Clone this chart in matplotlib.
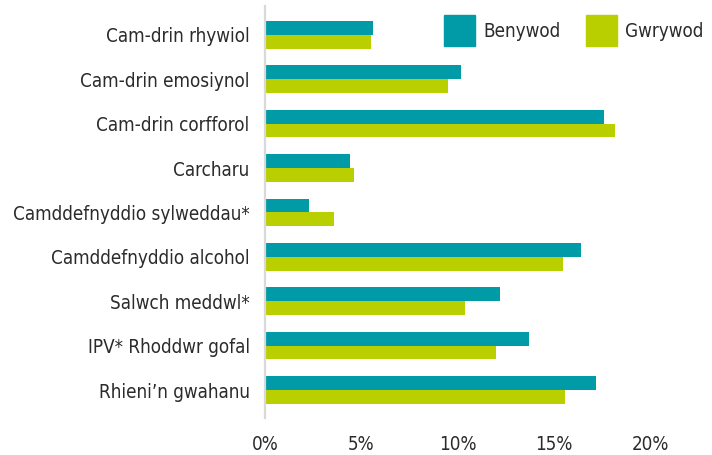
import matplotlib
matplotlib.use("Agg")
import matplotlib.pyplot as plt
from matplotlib.patches import Patch
import numpy as np

# --- data (percent) ---
categories = [
    "Cam-drin rhywiol",
    "Cam-drin emosiynol",
    "Cam-drin corfforol",
    "Carcharu",
    "Camddefnyddio sylweddau*",
    "Camddefnyddio alcohol",
    "Salwch meddwl*",
    "IPV* Rhoddwr gofal",
    "Rhieni\u2019n gwahanu",
]
benywod = [5.6, 10.2, 17.6, 4.4, 2.3, 16.4, 12.2, 13.7, 17.2]
gwrywod = [5.5, 9.5, 18.2, 4.6, 3.6, 15.5, 10.4, 12.0, 15.6]
xticks = [0, 5, 10, 15, 20]
series_names = ["Benywod", "Gwrywod"]

TEAL = "#009ba6"
LIME = "#bacf00"
TEXT = "#2b2b2b"

# condensed face to mimic the narrow original font
plt.rcParams['font.family'] = ['DejaVu Sans']
plt.rcParams['font.stretch'] = 'condensed'

fig = plt.figure(figsize=(7.12, 4.55), dpi=100)
ax = fig.add_axes([265 / 712, 37 / 455, 385 / 712, 412 / 455])

y = np.arange(len(categories))
h = 0.31
ax.barh(y - h / 2, benywod, height=h, color=TEAL)
ax.barh(y + h / 2, gwrywod, height=h, color=LIME)

ax.set_xlim(0, 20)
ax.set_ylim(len(categories) - 1 + 0.63, -0.65)
ax.set_yticks(y)
ax.set_yticklabels(categories)
ax.set_xticks(xticks)
ax.set_xticklabels([f"{t}%" for t in xticks])
ax.tick_params(axis='both', length=0, labelsize=13.5, colors=TEXT)
ax.tick_params(axis='y', pad=11)
ax.tick_params(axis='x', pad=12)

for s in ['top', 'right', 'bottom']:
    ax.spines[s].set_visible(False)
ax.spines['left'].set_color('#d9d9d9')
ax.spines['left'].set_linewidth(1.6)

handles = [Patch(color=TEAL), Patch(color=LIME)]
fig.legend(handles, series_names, loc='upper left',
           bbox_to_anchor=(444 / 712, 1 - 15 / 455), ncol=2, frameon=False,
           fontsize=13.5, handlelength=1.65, handleheight=2.2,
           handletextpad=0.45, columnspacing=1.35, borderpad=0,
           borderaxespad=0, labelcolor=TEXT)

fig.savefig("out.png", dpi=100)
